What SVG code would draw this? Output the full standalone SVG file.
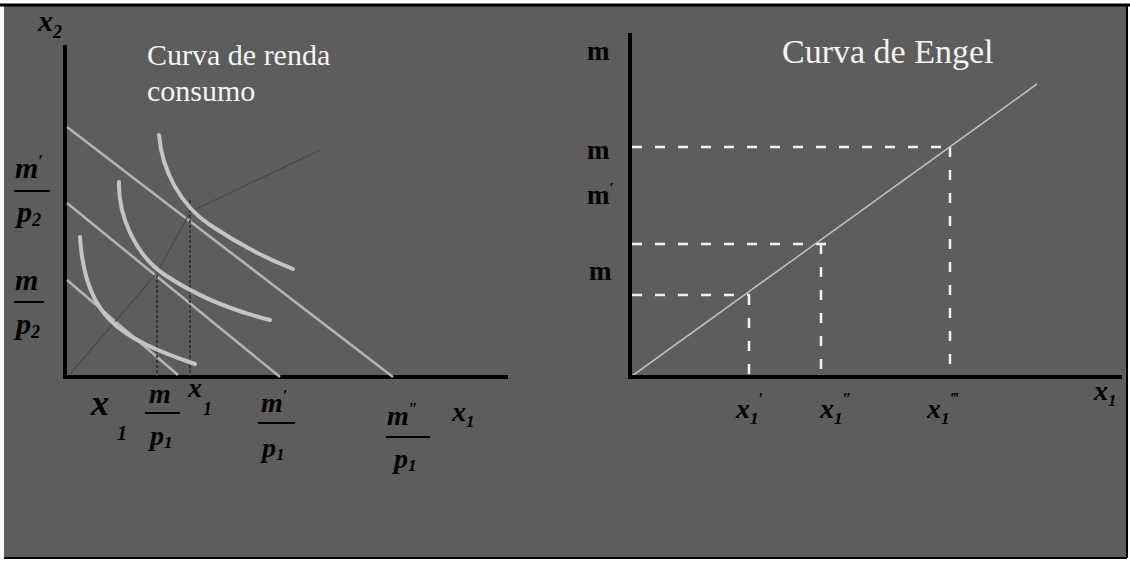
<svg xmlns="http://www.w3.org/2000/svg" width="1130" height="563" viewBox="0 0 1130 563">
<defs>
<style>
.axis{stroke:#000;stroke-width:4;fill:none}
.budget{stroke:#b4b4b4;stroke-width:2.5;fill:none}
.ic{stroke:#c4c4c4;stroke-width:4;fill:none;stroke-linecap:round}
.drop{stroke:#2a2a2a;stroke-width:1.5;stroke-dasharray:3 2;fill:none}
.dash{stroke:#f2f2f2;stroke-width:2.5;stroke-dasharray:10 13;fill:none}
.engel{stroke:#bdbdbd;stroke-width:1.6;fill:none}
.bar{stroke:#000;stroke-width:2}
.title{font-family:"Liberation Serif",serif;fill:#f4f4f4}
.math{font-family:"Liberation Serif",serif;font-style:italic;font-weight:bold;fill:#000}
.mr{font-family:"Liberation Serif",serif;font-weight:bold;fill:#000}
</style>
</defs>
<rect x="0" y="0" width="1130" height="563" fill="#ffffff"/>
<rect x="4" y="5" width="1123" height="553" fill="#5d5d5d"/>
<line x1="0" y1="5" x2="1130" y2="5" stroke="#000" stroke-width="3"/>
<line x1="4" y1="558" x2="1127" y2="558" stroke="#000" stroke-width="2"/>
<line x1="1127" y1="5" x2="1127" y2="558" stroke="#000" stroke-width="2"/>

<g id="left-axes">
<line class="axis" x1="65" y1="45" x2="65" y2="378"/>
<line class="axis" x1="63" y1="377" x2="508" y2="377"/>
</g>

<g id="connectors">
<line class="budget" x1="67" y1="127" x2="393" y2="377"/>
<line class="budget" x1="67" y1="203" x2="280" y2="377"/>
<line class="budget" x1="67" y1="280" x2="178" y2="375"/>
<line class="drop" x1="157" y1="275" x2="157" y2="376"/>
<line class="drop" x1="190" y1="200" x2="190" y2="376"/>
<polyline fill="none" stroke="#4a4a4a" stroke-width="1.2" points="70,374 157,273 190,212 320,150"/>
<line class="dash" x1="632" y1="147" x2="950" y2="147"/>
<line class="dash" x1="950" y1="147" x2="950" y2="377"/>
<line class="dash" x1="632" y1="244" x2="835" y2="244"/>
<line class="dash" x1="821" y1="244" x2="821" y2="377"/>
<line class="dash" x1="632" y1="295" x2="750" y2="295"/>
<line class="dash" x1="749" y1="295" x2="749" y2="377"/>
<line class="engel" x1="632" y1="376" x2="1037" y2="84"/>
</g>

<g id="indifference-curves">
<path class="ic" d="M80,237 C82,270 90,300 110,320 C130,340 160,352 195,364"/>
<path class="ic" d="M119,182 C118,215 135,255 165,275 C195,295 230,310 270,320"/>
<path class="ic" d="M159,135 C162,170 180,205 210,225 C240,245 265,258 293,269"/>
</g>

<g id="left-title">
<text class="title" x="147" y="65" font-size="30">Curva de renda</text>
<text class="title" x="147" y="101" font-size="30">consumo</text>
</g>

<g id="left-labels">
<text class="math" x="38" y="31" font-size="30">x<tspan font-size="18" dy="7">2</tspan></text>
<text class="math" x="15" y="178" font-size="30">m<tspan font-size="16" dy="-12">′</tspan></text>
<line class="bar" x1="14" y1="191" x2="50" y2="191"/>
<text class="math" x="17" y="222" font-size="30">p<tspan font-size="18" dy="4">2</tspan></text>
<text class="math" x="15" y="290" font-size="30">m</text>
<line class="bar" x1="14" y1="302" x2="44" y2="302"/>
<text class="math" x="16" y="334" font-size="30">p<tspan font-size="18" dy="4">2</tspan></text>
<text class="math" x="91" y="415" font-size="36">x</text>
<text class="math" x="117" y="440" font-size="20">1</text>
<text class="math" x="149" y="403" font-size="28">m</text>
<line class="bar" x1="145" y1="413" x2="180" y2="413"/>
<text class="math" x="150" y="445" font-size="28">p<tspan font-size="17" dy="3">1</tspan></text>
<text class="math" x="188" y="397" font-size="28">x</text>
<text class="math" x="203" y="415" font-size="18">1</text>
<text class="math" x="261" y="412" font-size="28">m<tspan font-size="16" dy="-11">′</tspan></text>
<line class="bar" x1="258" y1="423" x2="295" y2="423"/>
<text class="math" x="262" y="457" font-size="28">p<tspan font-size="17" dy="3">1</tspan></text>
<text class="math" x="387" y="425" font-size="28">m<tspan font-size="16" dy="-11">″</tspan></text>
<line class="bar" x1="386" y1="437" x2="430" y2="437"/>
<text class="math" x="394" y="468" font-size="28">p<tspan font-size="17" dy="3">1</tspan></text>
<text class="math" x="452" y="421" font-size="28">x<tspan font-size="17" dy="6">1</tspan></text>
</g>

<g id="right-axes">
<line class="axis" x1="630" y1="33" x2="630" y2="378"/>
<line class="axis" x1="628" y1="377" x2="1122" y2="377"/>
</g>

<g id="right-title">
<text class="title" x="782" y="63" font-size="34">Curva de Engel</text>
</g>

<g id="right-labels">
<text class="mr" x="587" y="60" font-size="27">m</text>
<text class="mr" x="587" y="159" font-size="27">m</text>
<text class="mr" x="587" y="204" font-size="27">m<tspan font-size="15" dy="-11">′</tspan></text>
<text class="mr" x="589" y="280" font-size="27">m</text>
<text class="math" x="736" y="418" font-size="28">x<tspan font-size="17" dy="6">1</tspan><tspan font-size="16" dy="-20">′</tspan></text>
<text class="math" x="820" y="418" font-size="28">x<tspan font-size="17" dy="6">1</tspan><tspan font-size="16" dy="-20">″</tspan></text>
<text class="math" x="927" y="418" font-size="28">x<tspan font-size="17" dy="6">1</tspan><tspan font-size="16" dy="-20">‴</tspan></text>
<text class="math" x="1094" y="400" font-size="28">x<tspan font-size="17" dy="6">1</tspan></text>
</g>
</svg>
